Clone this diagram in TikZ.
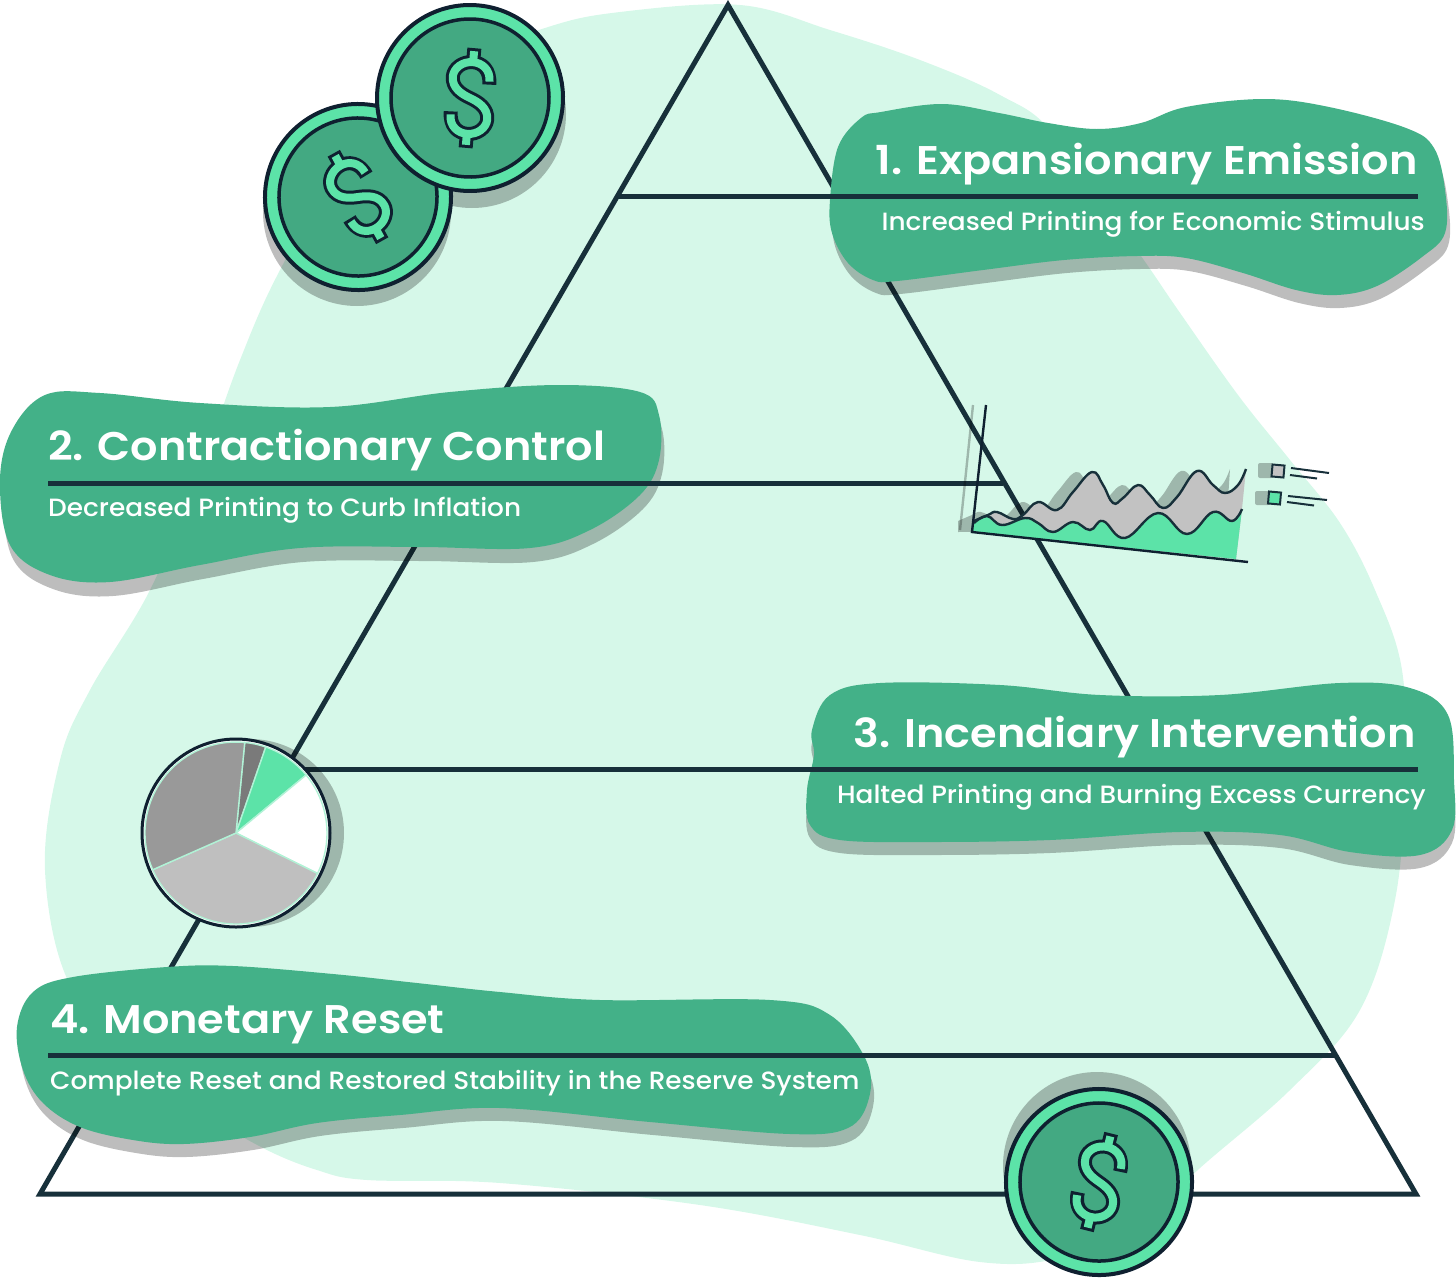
\documentclass[tikz,border=0pt]{standalone}
\usepackage{fontspec}
\setmainfont{Poppins}
\newfontfamily\titlefont{Poppins SemiBold}[FakeStretch=1.075]
\newfontfamily\subfont{Poppins Medium}[FakeStretch=1.055]
\usetikzlibrary{positioning, calc}
\definecolor{mint}{HTML}{D6F8E9}
\definecolor{blobgreen}{HTML}{43B188}
\definecolor{coinlight}{HTML}{5CE3A8}
\definecolor{coingreen}{HTML}{43A982}
\definecolor{ink}{HTML}{17303A}
\definecolor{coinink}{HTML}{0F2030}

\newcommand{\chartupper}{plot[smooth, tension=0.7] coordinates {(974,521) (988,515) (997,512) (1013,519) (1023,515) (1038,502) (1057,510) (1073,492) (1092,472) (1103,485) (1113,503) (1123,498) (1138,485) (1150,495) (1163,508) (1177,497) (1197,471) (1213,485) (1225,493) (1238,485) (1246,469)}}
\newcommand{\chartlower}{plot[smooth, tension=0.7] coordinates {(974,523) (987,516) (1002,525) (1025,518) (1038,523) (1053,532) (1073,522) (1090,530) (1103,521) (1125,538) (1158,513) (1187,534) (1213,512) (1232,521) (1242,509)}}
\newcommand{\blobone}{plot[smooth cycle, tension=0.6] coordinates {(830,200) (838,147) (861,118) (881,112) (942,104) (999,113) (1048,123) (1097,129) (1141,123) (1186,107) (1264,99) (1329,107) (1406,128) (1434,148) (1445,190) (1445,233) (1422,257) (1377,286) (1337,295) (1296,290) (1243,273) (1186,258) (1137,256) (1064,260) (983,270) (897,281) (873,280) (848,263) (832,233)}}
\newcommand{\blobtwo}{plot[smooth cycle, tension=0.6] coordinates {(0,480) (12,430) (45,395) (100,393) (200,403) (330,407) (450,392) (560,385) (640,392) (659,415) (659,460) (640,495) (590,530) (530,548) (420,547) (300,548) (200,565) (110,582) (50,575) (10,545)}}
\newcommand{\blobthree}{plot[smooth cycle, tension=0.6] coordinates {(812,730) (830,695) (880,683) (1000,685) (1100,695) (1220,695) (1340,683) (1410,688) (1448,715) (1454,780) (1452,830) (1420,855) (1350,852) (1280,835) (1180,832) (1050,840) (930,842) (840,840) (810,825) (807,790) (814,755)}}
\newcommand{\blobfour}{plot[smooth cycle, tension=0.6] coordinates {(17,1027) (33,992) (73,977) (167,967) (233,966) (333,974) (417,983) (500,992) (600,1000) (770,1000) (830,1015) (866,1060) (869,1098) (848,1128) (790,1134) (650,1122) (500,1108) (400,1115) (317,1123) (250,1137) (183,1144) (133,1140) (80,1127) (43,1103) (23,1070)}}

\begin{document}
\begin{tikzpicture}[x=1pt, y=-1pt, line join=miter,
    shadow/.style={fill=black, fill opacity=.26, draw=none},
    level/.style={draw=ink, line width=5pt},
    side/.style={draw=ink, line width=5pt},
    title/.style={text=white, inner sep=0pt, font=\fontsize{40}{40}\titlefont},
    subtitle/.style={text=white, inner sep=0pt, font=\fontsize{25}{25}\subfont},
    keybox/.style={draw=ink, line width=2pt, minimum size=12pt, inner sep=0pt, rotate=-5},
    keyline/.style={draw=ink, line width=2pt},
    coin/.pic={
      \draw[fill=coinlight, draw=coinink, line width=4pt] (0,0) circle[radius=93pt];
      \draw[fill=coingreen, draw=coinink, line width=3.5pt] (0,0) circle[radius=79pt];
      \foreach \dollarw/\dollarc/\dollars in {14/coinink/0pt, 8/coinlight/3pt} {
        \draw[line width=\dollarw pt, \dollarc, line join=round, shorten <=\dollars, shorten >=\dollars]
          (18,-15) .. controls (18,-30) and (9,-36) .. (0,-36)
          .. controls (-11,-36) and (-19,-28) .. (-19,-20)
          .. controls (-19,-8) and (-8,-3) .. (0,0)
          .. controls (8,3) and (19,8) .. (19,20)
          .. controls (19,28) and (11,36) .. (0,36)
          .. controls (-9,36) and (-18,30) .. (-18,15);
        \draw[line width=\dollarw pt, \dollarc, shorten >=\dollars] (0,-36) -- (0,-50);
        \draw[line width=\dollarw pt, \dollarc, shorten >=\dollars] (0,36) -- (0,50);
      }
    }]
  \useasboundingbox (0,0) rectangle (1456,1280);

  % background
  \fill[mint] plot[smooth cycle, tension=0.6] coordinates {(545,28) (620,12) (740,5) (830,30) (920,60) (1000,95) (1055,135) (1141,256) (1178,310) (1238,395) (1290,460) (1340,523) (1375,590) (1402,670) (1405,780) (1395,900) (1360,1010) (1290,1090) (1200,1168) (1140,1225) (1060,1258) (980,1262) (860,1235) (700,1205) (500,1183) (367,1180) (317,1170) (263,1148) (200,1110) (140,1060) (70,985) (45,870) (60,760) (90,690) (150,590) (200,470) (240,360) (280,270) (350,150) (440,70)};

  % pyramid
  \coordinate (apex) at (728,5);
  \coordinate (left) at (40,1194);
  \coordinate (right) at (1416,1194);
  \draw[side] (apex) -- (left) -- (right) -- cycle;

  % labels
  \fill[shadow, shift={(3,13)}] \blobone;
  \fill[blobgreen] \blobone;
  \fill[shadow, shift={(3,14)}] \blobtwo;
  \fill[blobgreen] \blobtwo;
  \fill[shadow, shift={(0,13)}] \blobthree;
  \fill[blobgreen] \blobthree;
  \fill[shadow, shift={(3,13)}] \blobfour;
  \fill[blobgreen] \blobfour;

  \coordinate (a1) at (618,196);
  \coordinate (b1) at (1418,196);
  \coordinate (a2) at (48,483);
  \coordinate (b2) at (1003,483);
  \coordinate (a3) at (290,769);
  \coordinate (b3) at (1418,769);
  \coordinate (a4) at (48,1055);
  \coordinate (b4) at (1336,1055);
  \draw[level] (a1) -- (b1);
  \draw[level] (a2) -- (b2);
  \draw[level] (a3) -- (b3);
  \draw[level] (a4) -- (b4);

  \node[title, anchor=base east] (t1) at (1418,174) {1. Expansionary Emission};
  \node[subtitle, anchor=base east] (s1) at (1425,230) {Increased Printing for Economic Stimulus};
  \node[title, anchor=base west] (t2) at (48,460) {2. Contractionary Control};
  \node[subtitle, anchor=base west] (s2) at (48,516) {Decreased Printing to Curb Inflation};
  \node[title, anchor=base east] (t3) at (1416,747) {3. Incendiary Intervention};
  \node[subtitle, anchor=base east] (s3) at (1426,803) {Halted Printing and Burning Excess Currency};
  \node[title, anchor=base west] (t4) at (50,1033) {4. Monetary Reset};
  \node[subtitle, anchor=base west] (s4) at (50,1089) {Complete Reset and Restored Stability in the Reserve System};

  % coins
  \fill[shadow] (357,212) circle[radius=94pt];
  \fill[shadow] (472,114) circle[radius=94pt];
  \fill[shadow] (1097,1166) circle[radius=94pt];
  \pic[rotate=29] at (358,197) {coin={}};
  \pic[rotate=-5] at (470,98) {coin={}};
  \pic[rotate=-14] at (1099,1182) {coin={}};

  % pie
  \coordinate (pie) at (236,833);
  \fill[shadow] (250,833) circle[radius=94pt];
  \fill[white] (pie) circle[radius=94pt];
  \foreach \wstart/\wend/\wcol in {84.5/70.9/black!52, 70.9/39.6/coinlight, 39.6/-26.4/white, -26.4/-156.2/black!25, 203.8/84.5/black!40} {
    \filldraw[fill=\wcol, draw=mint!70!coinlight, line width=1.4pt]
      (pie) -- ++(\wstart:91pt) arc[start angle=\wstart, end angle=\wend, radius=91pt] -- cycle;
  }
  \draw[coinink, line width=3pt] (pie) circle[radius=94pt];

  % chart
  \coordinate (origin) at (972,532);
  \coordinate (ytop) at (986,405);
  \coordinate (xend) at (1248,562);
  \coordinate (bottomright) at (1236,559);
  \coordinate (topright) at (1242,509);
  \draw[black, opacity=.26, line width=2.4pt] (973,405) -- (960,530);
  \fill[shadow, shift={(-16,0)}] \chartupper -- (1242,530) -- (974,532) -- cycle;
  \fill[black!24] \chartupper -- (topright) -- (bottomright) -- (origin) -- cycle;
  \fill[coinlight] \chartlower -- (bottomright) -- (origin) -- cycle;
  \draw[ink, line width=2.4pt] \chartupper;
  \draw[ink, line width=2.4pt] \chartlower;
  \draw[coinink, line width=2.4pt] (ytop) -- (origin) -- (xend);

  % legend
  \fill[shadow, rounded corners=2pt] (1258,463) rectangle (1273,478);
  \fill[shadow, rounded corners=2pt] (1255,491) rectangle (1270,505);
  \node[keybox, fill=black!24] (k1) at (1278,471) {};
  \node[keybox, fill=coinlight] (k2) at (1274.5,498) {};
  \draw[keyline] (1291,468) -- (1329,473);
  \draw[keyline] (1290,475) -- (1317,478.5);
  \draw[keyline] (1288,496) -- (1327,500);
  \draw[keyline] (1287,502) -- (1314,505.5);
\end{tikzpicture}
\end{document}
